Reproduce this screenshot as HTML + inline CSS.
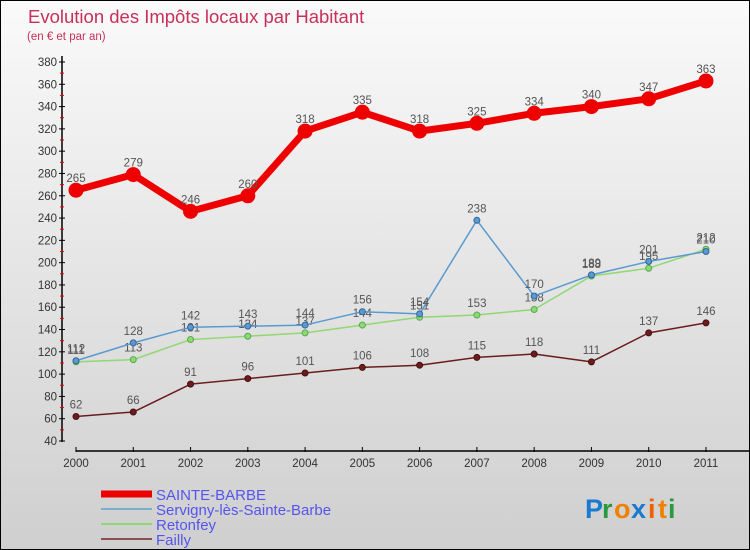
<!DOCTYPE html>
<html><head><meta charset="utf-8"><style>
body{margin:0}
#c{width:750px;height:550px;position:relative;box-sizing:border-box;border:1px solid #000;background:linear-gradient(#fafafa,#cfcfcf);font-family:"Liberation Sans",sans-serif;overflow:hidden}
</style></head><body>
<div id="c">
<svg id="s" width="750" height="550" style="position:absolute;left:0;top:0"></svg>
</div>
<script>
const years=["2000","2001","2002","2003","2004","2005","2006","2007","2008","2009","2010","2011"];
const yTicks=[40,60,80,100,120,140,160,180,200,220,240,260,280,300,320,340,360,380];
const sainteBarbe=[265,279,246,260,318,335,318,325,334,340,347,363];
const servigny=[112,128,142,143,144,156,154,238,170,189,201,210];
const retonfey=[111,113,131,134,137,144,151,153,158,188,195,212];
const failly=[62,66,91,96,101,106,108,115,118,111,137,146];
const NS="http://www.w3.org/2000/svg";
const s=document.getElementById('s');
function xs(i){return 75+i*57.27;}
function ys(v){return 440-(v-40)*(379/340);}
function el(t,a,txt){const e=document.createElementNS(NS,t);for(const k in a)e.setAttribute(k,a[k]);if(txt!==undefined)e.textContent=txt;s.appendChild(e);return e;}
let e;
e=el('text',{x:27,y:22,'font-size':18.5,fill:'#c8305a'},'Evolution des Impôts locaux par Habitant');

e=el('text',{x:26,y:39,'font-size':11.5,fill:'#c8305a'},'(en € et par an)');

e=el('line',{x1:61,y1:55,x2:61,y2:441,stroke:'#000','stroke-width':1.5});

yTicks.forEach((v,i)=>{
 const y=ys(v);
 e=el('line',{x1:58,y1:y,x2:64,y2:y,stroke:'#000'});
 
 if(i<yTicks.length-1){e=el('line',{x1:59,y1:y-11.15,x2:63,y2:y-11.15,stroke:'#e00'});
 }
 e=el('text',{x:56,y:y+4,'font-size':11.5,'text-anchor':'end',fill:'#333'},v);
 
});
e=el('line',{x1:75,y1:450,x2:750,y2:450,stroke:'#000','stroke-width':1.5});

years.forEach((yr,i)=>{
 e=el('line',{x1:xs(i),y1:446,x2:xs(i),y2:451,stroke:'#000'});
 
 e=el('text',{x:xs(i),y:466,'font-size':11.5,'text-anchor':'middle',fill:'#333'},yr);
 
});
function series(d,col,w,r,name,lab){
 const pts=d.map((v,i)=>xs(i)+','+ys(v)).join(' ');
 e=el('polyline',{points:pts,fill:'none',stroke:col,'stroke-width':w,'stroke-linejoin':'round'});
 
 d.forEach((v,i)=>{
  e=el('circle',{cx:xs(i),cy:ys(v),r:r,fill:col,stroke:lab});
  
  e=el('text',{x:xs(i),y:ys(v)-8,'font-size':11.5,'text-anchor':'middle',fill:'#555'},v);
  
 });
}
series(failly,'#6b1c1c',1.5,3,'failly','#4a1010');
series(retonfey,'#90d870',1.5,3,'retonfey','#5a5');
series(servigny,'#5a9ad0',1.5,3,'servigny','#369');
series(sainteBarbe,'#ee0000',7,7,'sainte-barbe','#e00');
const leg=[['SAINTE-BARBE','#ee0000',7],['Servigny-lès-Sainte-Barbe','#7aaed0',2],['Retonfey','#90d870',2],['Failly','#8b5050',2]];
leg.forEach((l,i)=>{
 const y=493+i*15;
 e=el('line',{x1:100,y1:y,x2:151,y2:y,stroke:l[1],'stroke-width':l[2]});
 
 e=el('text',{x:155,y:y+6,'font-size':15,fill:'#5555ee'},l[0]);
 
});
const logo=[['P','#1a7ad0'],['r','#2a9a40'],['o','#f08000'],['x','#1a7ad0'],['i','#f06000'],['t','#f08000'],['i','#2a9a40']];
let lx=584;
logo.forEach(c=>{e=el('text',{x:lx,y:517,'font-size':27,'font-weight':'bold',fill:c[1]},c[0]);
 
 lx+=(c[0]=='i'||c[0]=='t')?10:(c[0]=='r'?12:17);});
</script>
</body></html>
